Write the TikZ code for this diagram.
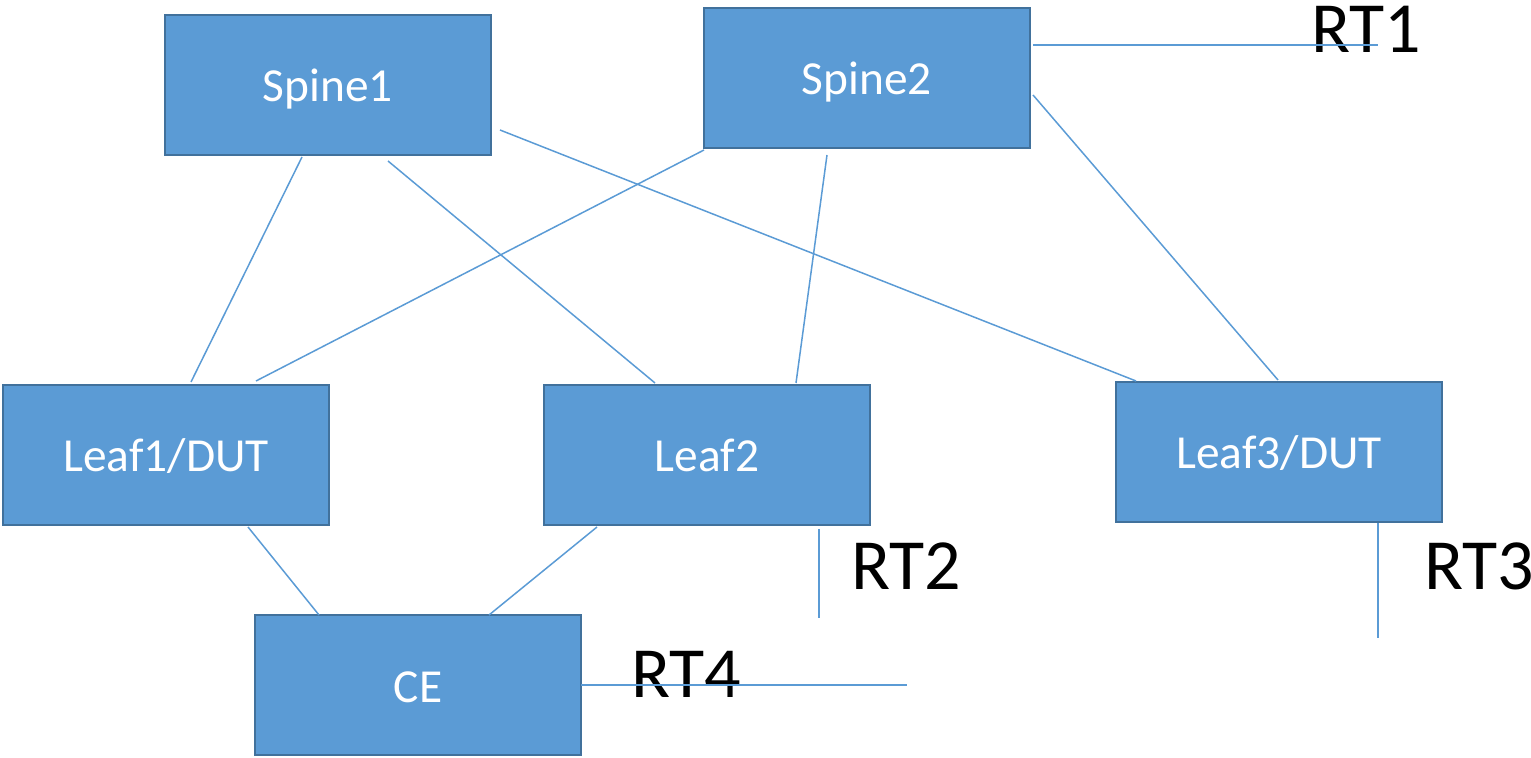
\documentclass[tikz,border=0pt]{standalone}
\usepackage{fontspec}
\setmainfont{Carlito}
\definecolor{boxfill}{HTML}{5B9BD5}
\definecolor{boxline}{HTML}{41719C}
\definecolor{linkc}{HTML}{5B9BD5}
\begin{document}
\begin{tikzpicture}[x=0.5pt,y=-0.5pt,
  dev/.style={draw=boxline,fill=boxfill,line width=1pt,minimum width=163pt,minimum height=70pt,inner sep=0pt,text height=20pt,text depth=3pt,text=white,font=\fontsize{23.7}{28}\selectfont},
  link/.style={draw=linkc,line width=0.75pt},
  rt/.style={anchor=base west,inner sep=0pt,font=\fontsize{36}{42}\selectfont}]
\useasboundingbox (0,0) rectangle (1531,758);
\node[dev] (s1) at (328,85) {Spine1};
\node[dev] (s2) at (867,78) {Spine2};
\node[dev] (l1) at (166,455) {Leaf1/DUT};
\node[dev] (l2) at (707,455) {Leaf2};
\node[dev] (l3) at (1279,452) {Leaf3/DUT};
\node[dev] (ce) at (418,685) {CE};
\node[rt] (rt1) at (1311,53) {RT1};
\node[rt] (rt2) at (851,589) {RT2};
\node[rt] (rt3) at (1424,589) {RT3};
\node[rt] (rt4) at (631,697) {RT4};
% endpoints
\coordinate (s1a) at (302,157); \coordinate (l1a) at (191,382);
\coordinate (s1b) at (388,161); \coordinate (l2a) at (655,383);
\coordinate (s1c) at (500,130); \coordinate (l3a) at (1136,381);
\coordinate (s2a) at (704,150); \coordinate (l1b) at (256,381);
\coordinate (s2b) at (827,155); \coordinate (l2b) at (796,383);
\coordinate (s2c) at (1033,95); \coordinate (l3b) at (1278,380);
\coordinate (s2d) at (1033,45); \coordinate (rt1e) at (1378,45);
\coordinate (l1c) at (248,527); \coordinate (cea) at (319,615);
\coordinate (l2c) at (597,527); \coordinate (ceb) at (489,615);
\coordinate (l2d) at (819,529); \coordinate (rt2e) at (819,618);
\coordinate (l3c) at (1378,523); \coordinate (rt3e) at (1378,638);
\coordinate (cec) at (581,685); \coordinate (rt4e) at (907,685);
\draw[link] (s1a) -- (l1a);
\draw[link] (s1b) -- (l2a);
\draw[link] (s1c) -- (l3a);
\draw[link] (s2a) -- (l1b);
\draw[link] (s2b) -- (l2b);
\draw[link] (s2c) -- (l3b);
\draw[link] (s2d) -- (rt1e);
\draw[link] (l1c) -- (cea);
\draw[link] (l2c) -- (ceb);
\draw[link] (l2d) -- (rt2e);
\draw[link] (l3c) -- (rt3e);
\draw[link] (cec) -- (rt4e);
\end{tikzpicture}
\end{document}
